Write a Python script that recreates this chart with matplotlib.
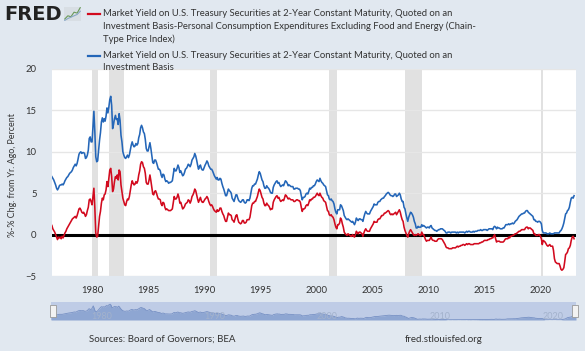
import matplotlib
matplotlib.use("Agg")
import matplotlib.pyplot as plt
import pandas as pd

# monthly data, Jun 1976 .. Jan 2023
start = "1976-06-01"
yield_2y = [
    7.0, 6.8, 6.6, 6.3, 6.0, 5.6, 5.4,
    5.6, 5.9, 6.0, 6.0, 6.1, 6.0, 6.2, 6.5, 6.7, 6.9, 7.0, 7.2,
    7.4, 7.5, 7.6, 7.8, 8.1, 8.3, 8.5, 8.3, 8.6, 9.1, 9.7, 9.9,
    10.0, 9.8, 9.9, 9.9, 9.8, 9.2, 9.3, 9.6, 10.2, 11.6, 11.8, 11.2,
    11.2, 13.2, 14.9, 12.4, 9.4, 8.8, 8.9, 10.1, 11.4, 12.3, 13.6, 14.1,
    13.6, 14.0, 13.7, 14.3, 15.3, 14.7, 15.4, 16.3, 16.7, 15.6, 12.8, 13.3,
    14.0, 14.4, 13.9, 14.0, 13.3, 14.6, 13.8, 12.0, 11.2, 10.0, 9.6, 9.3,
    9.2, 9.4, 9.6, 9.3, 9.6, 10.2, 10.8, 11.2, 10.8, 10.6, 10.7, 11.0,
    10.8, 11.0, 11.7, 12.1, 12.9, 13.2, 12.9, 12.4, 12.2, 11.5, 10.4, 10.1,
    10.1, 10.6, 11.1, 10.4, 9.6, 8.7, 8.6, 9.0, 9.0, 8.7, 8.3, 7.9,
    7.9, 7.7, 7.2, 6.9, 7.3, 7.2, 6.7, 6.4, 6.5, 6.4, 6.2, 6.3,
    6.3, 6.4, 6.5, 7.3, 8.0, 7.7, 7.7, 8.0, 8.4, 8.1, 7.5, 7.7,
    7.4, 7.1, 7.2, 7.5, 7.9, 8.0, 8.2, 8.5, 8.4, 8.2, 8.5, 9.0,
    9.2, 9.4, 9.8, 9.5, 9.0, 8.4, 7.9, 8.2, 8.4, 8.0, 7.8, 7.8,
    8.1, 8.4, 8.6, 8.9, 8.7, 8.3, 8.1, 7.9, 7.9, 7.7, 7.4, 7.1,
    6.9, 6.7, 6.9, 6.6, 6.6, 6.8, 6.7, 6.2, 5.8, 5.5, 5.1, 4.7,
    4.7, 5.1, 5.5, 5.3, 5.2, 5.0, 4.4, 4.2, 4.0, 4.4, 4.8, 4.8,
    4.4, 4.1, 4.0, 3.9, 4.0, 4.2, 4.2, 3.9, 3.8, 3.9, 4.2, 4.2,
    4.1, 4.4, 5.0, 5.6, 5.9, 5.9, 6.1, 6.1, 6.4, 6.7, 7.2, 7.6,
    7.4, 7.0, 6.6, 6.4, 5.9, 5.6, 5.6, 5.9, 5.7, 5.6, 5.4, 5.1,
    5.0, 5.0, 5.7, 6.0, 6.2, 6.4, 6.5, 6.2, 6.3, 6.0, 5.8, 5.9,
    6.0, 5.9, 6.2, 6.5, 6.4, 6.2, 5.9, 6.0, 5.9, 5.8, 5.8, 5.8,
    5.5, 5.5, 5.6, 5.6, 5.6, 5.5, 5.5, 5.3, 4.7, 4.2, 4.5, 4.5,
    4.6, 4.9, 5.0, 4.9, 5.2, 5.6, 5.5, 5.7, 5.7, 5.9, 5.9, 6.1,
    6.4, 6.6, 6.5, 6.4, 6.8, 6.5, 6.3, 6.2, 6.0, 5.9, 5.8, 5.3,
    4.8, 4.7, 4.3, 4.2, 4.3, 4.1, 4.0, 3.7, 3.1, 2.7, 2.5, 3.0,
    3.0, 3.0, 3.6, 3.5, 3.2, 2.9, 2.3, 2.1, 1.9, 1.8, 1.9, 1.8,
    1.7, 1.6, 1.5, 1.6, 1.4, 1.2, 1.5, 2.0, 1.8, 1.7, 1.9, 1.9,
    1.8, 1.8, 1.6, 2.1, 2.5, 2.8, 2.6, 2.5, 2.5, 2.5, 2.8, 3.0,
    3.2, 3.4, 3.7, 3.6, 3.6, 3.6, 3.9, 4.0, 4.0, 4.2, 4.3, 4.4,
    4.4, 4.6, 4.7, 4.9, 5.0, 5.1, 5.0, 4.8, 4.7, 4.7, 4.6, 4.7,
    4.9, 4.9, 4.6, 4.7, 4.8, 5.0, 4.8, 4.3, 4.0, 4.0, 3.3, 3.1,
    2.5, 2.0, 1.6, 2.1, 2.4, 2.7, 2.6, 2.4, 2.1, 1.6, 1.3, 0.8,
    0.8, 1.0, 0.9, 0.9, 0.9, 1.2, 1.0, 1.1, 1.0, 0.9, 0.8, 0.9,
    0.9, 0.8, 1.0, 1.1, 0.8, 0.7, 0.6, 0.5, 0.5, 0.4, 0.5, 0.6,
    0.6, 0.7, 0.7, 0.7, 0.6, 0.5, 0.4, 0.2, 0.2, 0.3, 0.3, 0.3,
    0.2, 0.3, 0.3, 0.3, 0.3, 0.3, 0.2, 0.3, 0.2, 0.3, 0.3, 0.3,
    0.3, 0.3, 0.3, 0.2, 0.3, 0.4, 0.3, 0.4, 0.4, 0.3, 0.3, 0.3,
    0.4, 0.3, 0.4, 0.4, 0.4, 0.5, 0.5, 0.5, 0.6, 0.5, 0.5, 0.6,
    0.6, 0.6, 0.6, 0.5, 0.6, 0.7, 0.7, 0.7, 0.7, 0.6, 0.9, 1.0,
    0.9, 0.7, 0.9, 0.8, 0.8, 0.7, 0.7, 0.7, 0.8, 0.8, 1.0, 1.2,
    1.2, 1.2, 1.3, 1.2, 1.3, 1.3, 1.4, 1.3, 1.4, 1.6, 1.7, 1.8,
    2.0, 2.2, 2.3, 2.4, 2.5, 2.5, 2.6, 2.6, 2.8, 2.9, 2.9, 2.7,
    2.6, 2.5, 2.4, 2.3, 2.2, 1.8, 1.8, 1.6, 1.6, 1.5, 1.6, 1.6,
    1.5, 1.3, 0.5, 0.2, 0.2, 0.2, 0.2, 0.1, 0.1, 0.1, 0.2, 0.1,
    0.1, 0.1, 0.1, 0.2, 0.2, 0.2, 0.2, 0.2, 0.2, 0.4, 0.5, 0.7,
    1.0, 1.4, 1.9, 2.5, 2.6, 2.9, 3.0, 3.3, 3.9, 4.4, 4.5, 4.4,
    4.7,
]
real_2y = [
    1.1, 0.7, 0.5, 0.3, 0.0, -0.3, -0.6,
    -0.3, -0.4, -0.3, -0.5, -0.2, -0.4, -0.1, 0.2, 0.4, 0.7, 0.9, 1.1,
    1.3, 1.5, 1.7, 1.9, 2.0, 2.1, 2.2, 2.0, 2.3, 2.7, 3.1, 3.2,
    3.0, 2.7, 2.6, 2.7, 2.5, 2.2, 2.4, 2.9, 3.3, 4.2, 4.3, 4.0,
    3.6, 4.6, 5.6, 3.2, 0.2, -0.3, -0.2, 1.0, 2.2, 2.8, 3.8, 4.4,
    4.2, 4.8, 4.9, 5.4, 6.4, 5.8, 6.8, 7.8, 8.0, 7.0, 5.2, 5.5,
    6.4, 7.0, 6.8, 7.2, 6.6, 7.8, 7.6, 6.0, 5.2, 4.4, 4.0, 3.6,
    3.5, 4.0, 4.3, 4.2, 4.6, 5.3, 6.0, 6.5, 6.2, 6.0, 6.1, 6.4,
    6.2, 6.5, 7.2, 7.7, 8.5, 8.8, 8.7, 8.2, 8.0, 7.4, 6.3, 6.1,
    6.1, 6.6, 7.2, 6.5, 5.7, 4.9, 4.8, 5.2, 5.3, 5.0, 4.6, 4.3,
    4.3, 4.2, 3.7, 3.5, 3.9, 3.8, 3.3, 3.0, 3.1, 3.0, 2.9, 2.9,
    2.9, 3.0, 3.1, 3.9, 4.6, 4.3, 4.3, 4.5, 4.9, 4.5, 3.8, 3.9,
    3.5, 3.1, 3.2, 3.4, 3.7, 3.8, 3.9, 4.2, 4.1, 3.8, 4.1, 4.6,
    4.8, 5.1, 5.5, 5.3, 4.8, 4.3, 3.9, 4.2, 4.5, 4.1, 3.9, 3.9,
    4.1, 4.3, 4.4, 4.6, 4.4, 4.0, 3.7, 3.5, 3.6, 3.4, 3.1, 2.9,
    2.8, 2.7, 3.0, 2.8, 2.9, 3.2, 3.2, 2.8, 2.5, 2.3, 1.9, 1.6,
    1.6, 2.1, 2.6, 2.4, 2.4, 2.3, 1.8, 1.7, 1.5, 1.9, 2.3, 2.4,
    1.9, 1.5, 1.4, 1.3, 1.4, 1.7, 1.7, 1.4, 1.4, 1.5, 1.8, 1.8,
    1.8, 2.1, 2.8, 3.5, 3.8, 3.8, 4.0, 4.0, 4.3, 4.6, 5.1, 5.5,
    5.3, 4.9, 4.5, 4.3, 3.8, 3.5, 3.5, 3.8, 3.6, 3.5, 3.3, 3.0,
    3.1, 3.1, 3.9, 4.2, 4.4, 4.6, 4.7, 4.4, 4.5, 4.2, 4.0, 4.1,
    4.2, 4.1, 4.4, 4.8, 4.7, 4.5, 4.3, 4.4, 4.3, 4.2, 4.2, 4.2,
    4.0, 4.0, 4.1, 4.2, 4.2, 4.1, 4.1, 3.9, 3.3, 2.8, 3.1, 3.1,
    3.2, 3.5, 3.6, 3.5, 3.8, 4.2, 4.1, 4.3, 4.3, 4.5, 4.5, 4.6,
    4.8, 5.0, 4.8, 4.7, 5.0, 4.7, 4.5, 4.4, 4.1, 4.0, 3.9, 3.4,
    2.9, 2.8, 2.4, 2.3, 2.4, 2.2, 2.1, 1.8, 1.3, 0.9, 0.7, 1.2,
    1.2, 1.4, 2.0, 1.8, 1.3, 0.9, 0.3, 0.1, 0.0, -0.1, 0.1, 0.0,
    -0.1, -0.2, -0.2, 0.0, -0.2, -0.3, 0.0, 0.4, 0.2, 0.1, 0.3, 0.3,
    0.2, 0.1, -0.2, 0.2, 0.5, 0.7, 0.5, 0.4, 0.4, 0.4, 0.7, 0.9,
    1.1, 1.3, 1.6, 1.5, 1.5, 1.5, 1.8, 1.9, 1.9, 2.1, 2.3, 2.3,
    2.4, 2.6, 2.6, 2.7, 2.8, 2.9, 2.8, 2.5, 2.4, 2.5, 2.4, 2.5,
    2.6, 2.7, 2.4, 2.6, 2.8, 3.0, 2.7, 2.2, 1.8, 1.6, 0.9, 0.5,
    0.2, -0.1, -0.3, 0.1, 0.4, 0.6, 0.4, 0.2, 0.0, -0.1, 0.0, -0.1,
    0.0, 0.1, 0.0, -0.1, -0.1, 0.3, 0.0, 0.0, -0.3, -0.6, -0.8, -0.7,
    -0.7, -0.7, -0.5, -0.3, -0.6, -0.7, -0.7, -0.8, -0.8, -0.8, -0.6, -0.5,
    -0.5, -0.5, -0.5, -0.6, -0.8, -1.0, -1.2, -1.5, -1.6, -1.6, -1.7, -1.7,
    -1.7, -1.7, -1.6, -1.6, -1.6, -1.6, -1.5, -1.4, -1.5, -1.4, -1.4, -1.3,
    -1.3, -1.2, -1.2, -1.3, -1.2, -1.1, -1.2, -1.1, -1.1, -1.2, -1.2, -1.2,
    -1.2, -1.1, -1.1, -1.1, -1.1, -1.1, -1.1, -1.0, -1.0, -0.9, -0.9, -0.8,
    -0.7, -0.7, -0.7, -0.7, -0.6, -0.6, -0.5, -0.5, -0.4, -0.4, -0.2, 0.0,
    -0.5, -0.9, -0.8, -0.8, -0.8, -0.9, -0.9, -0.9, -0.9, -0.8, -0.6, -0.5,
    -0.5, -0.5, -0.3, -0.4, -0.2, -0.2, -0.1, -0.1, 0.0, 0.1, 0.1, 0.2,
    0.3, 0.4, 0.4, 0.5, 0.6, 0.6, 0.6, 0.6, 0.8, 0.9, 0.9, 0.7,
    0.8, 0.8, 0.7, 0.6, 0.5, 0.1, 0.1, -0.1, -0.1, -0.1, 0.0, 0.0,
    -0.2, -0.5, -1.2, -0.7, -0.8, -0.9, -1.1, -1.3, -1.4, -1.3, -1.2, -1.4,
    -1.4, -1.4, -1.9, -2.9, -3.3, -3.4, -3.5, -3.5, -3.5, -3.8, -4.2, -4.3,
    -4.2, -4.0, -3.3, -2.4, -2.3, -2.1, -1.7, -1.6, -1.3, -0.7, -0.3, -0.2,
    -0.5,
]
recessions = [("1980-01-01", "1980-07-01"), ("1981-07-01", "1982-11-01"),
              ("1990-07-01", "1991-03-01"), ("2001-03-01", "2001-11-01"),
              ("2007-12-01", "2009-06-01"), ("2020-02-01", "2020-04-01")]
tick_years = [1980, 1985, 1990, 1995, 2000, 2005, 2010, 2015, 2020]
nav_years = [1980, 1990, 2000, 2010, 2020]

red_label = ("Market Yield on U.S. Treasury Securities at 2-Year Constant Maturity, Quoted on an\n"
             "Investment Basis-Personal Consumption Expenditures Excluding Food and Energy (Chain-\n"
             "Type Price Index)")
blue_label = ("Market Yield on U.S. Treasury Securities at 2-Year Constant Maturity, Quoted on an\n"
              "Investment Basis")

plt.rcParams['font.family'] = ['Lato', 'DejaVu Sans']

dates = pd.date_range(start, periods=len(yield_2y), freq="MS")
W, H = 585, 351
bg = "#e1e8f0"
red = "#d20a1e"
blue = "#2466b8"
txt = "#333333"

fig = plt.figure(figsize=(W / 100, H / 100), dpi=100, facecolor=bg)
ax = fig.add_axes([52 / W, 1 - 276 / H, (576 - 52) / W, (276 - 69) / H])
ax.set_facecolor("white")

for a, b in recessions:
    ax.axvspan(pd.Timestamp(a), pd.Timestamp(b), color="#e1e1e1", lw=0, zorder=0)
ax.axhline(0, color="black", lw=2.2, zorder=3)
ax.plot(dates, real_2y, color=red, lw=1.15, zorder=4)
ax.plot(dates, yield_2y, color=blue, lw=1.15, zorder=4)

ax.set_xlim(pd.Timestamp("1976-06-05"), pd.Timestamp("2023-03-05"))
ax.set_ylim(-5, 20)
ax.set_yticks([-5, 0, 5, 10, 15, 20])
ax.set_xticks([pd.Timestamp(f"{y}-01-01") for y in tick_years])
ax.set_xticklabels([str(y) for y in tick_years])
ax.grid(axis="y", color="#e6e6e6", lw=1)
ax.set_axisbelow(True)
for s in ax.spines.values():
    s.set_visible(False)
ax.tick_params(axis="both", length=0, labelsize=6.8, colors=txt)
ax.tick_params(axis="y", pad=11)
ax.tick_params(axis="x", pad=7)

fig.text(13 / W, 1 - 175 / H, "%-% Chg. from Yr. Ago, Percent", rotation=90,
         ha="center", va="center", fontsize=6.4, color=txt)

# header: logo + legend
fig.text(4 / W, 1 - 14 / H, "FRED", fontsize=14, fontweight="bold",
         family="DejaVu Sans", color="#222222", va="center", ha="left")
icon = fig.add_axes([64 / W, 1 - 21 / H, 17 / W, 14 / H])
icon.set_facecolor("#d8dee4")
icon.plot([0, 1, 2, 3, 4, 5], [0.5, 1.2, 1.0, 2.0, 1.8, 3.0], color="#6a9a5a", lw=0.8)
icon.plot([0, 1, 2, 3, 4, 5], [0.2, 0.6, 0.9, 1.2, 1.5, 2.2], color="#8aa8c8", lw=0.8)
icon.set_xticks([]); icon.set_yticks([])
for s in icon.spines.values():
    s.set_visible(False)

fig.lines.append(plt.Line2D([88 / W, 100 / W], [1 - 14 / H] * 2, color=red, lw=1.6,
                            transform=fig.transFigure))
fig.lines.append(plt.Line2D([88 / W, 100 / W], [1 - 56 / H] * 2, color=blue, lw=1.6,
                            transform=fig.transFigure))
fig.text(103 / W, 1 - 9 / H, red_label, fontsize=6.8, color=txt, va="top",
         ha="left", linespacing=1.45)
fig.text(103 / W, 1 - 51 / H, blue_label, fontsize=6.8, color=txt, va="top",
         ha="left", linespacing=1.45)

# navigator
nav = fig.add_axes([51 / W, 1 - 320 / H, (576 - 51) / W, 18 / H])
nav.set_facecolor("#bfcce6")
nav.fill_between(dates, 0, yield_2y, color="#8ea6d2", lw=0)
nav.plot(dates, yield_2y, color="#7690c4", lw=0.6)
nav.set_xlim(dates[0], dates[-1])
nav.set_ylim(0, 19)
nav.set_xticks([]); nav.set_yticks([])
for s in nav.spines.values():
    s.set_visible(False)
for y in nav_years:
    nav.text(pd.Timestamp(f"{y}-01-01"), 3.5, str(y), fontsize=6.5, color="#a3b2cc",
             ha="left", va="center")
for xp in (53, 575):
    fig.patches.append(plt.Rectangle(((xp - 3) / W, 1 - 317 / H), 6 / W, 12 / H,
                                     transform=fig.transFigure, facecolor="#f2f2f2",
                                     edgecolor="#999999", lw=0.6))

fig.text(89 / W, 1 - 339 / H, "Sources: Board of Governors; BEA", fontsize=7.0,
         color=txt, va="center", ha="left")
fig.text(405 / W, 1 - 339 / H, "fred.stlouisfed.org", fontsize=7.0,
         color=txt, va="center", ha="left")

fig.savefig("out.png", dpi=100, facecolor=bg)
